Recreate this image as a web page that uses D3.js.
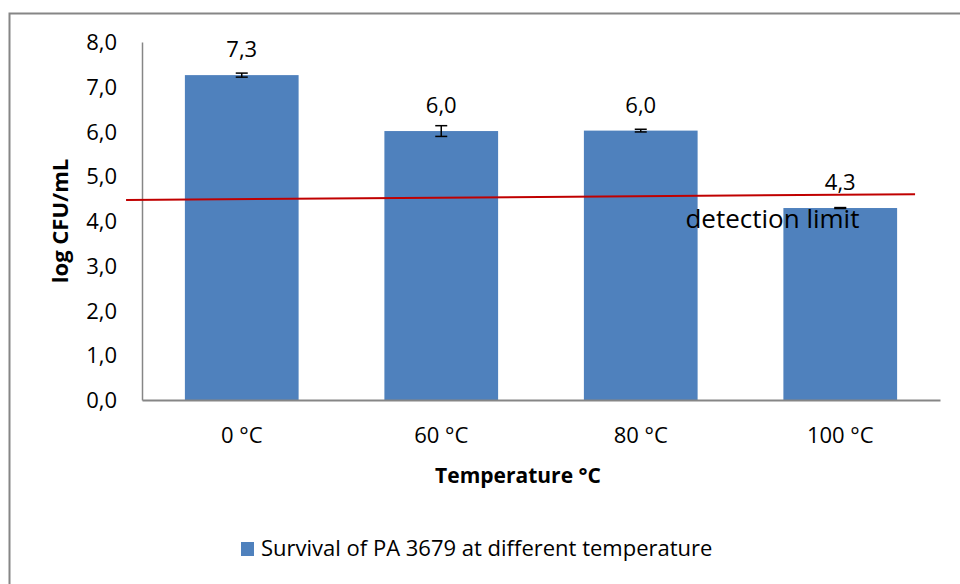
<!DOCTYPE html>
<html>
<head>
<meta charset="utf-8">
<script src="https://cdn.jsdelivr.net/npm/d3@7"></script>
<style>
  body { margin: 0; background: #fff; }
  text { font-family: "Open Sans", sans-serif; fill: #000; }
</style>
</head>
<body>
<div id="canvas"></div>
<script>
// data
let categories = ["0 °C", "60 °C", "80 °C", "100 °C"]
let values = [7.26, 6.01, 6.02, 4.29]
let errors = [0.045, 0.12, 0.03, 0.01]
let labels = ["7,3", "6,0", "6,0", "4,3"]
let yTicks = [0, 1, 2, 3, 4, 5, 6, 7, 8]
// hand-drawn detection line, x in category units, y in log CFU/mL
let detectionLine = [[-0.08, 4.47], [3.875, 4.60]]
let seriesName = "Survival of PA 3679 at different temperature"

let width = 960
let height = 584
let margin = { left: 142, right: 20, top: 42, bottom: 184 }
let barColor = "#4f81bd"
let gray = "#868686"
let fs = 22

let svg = d3.select("#canvas").append("svg")
    .attr("width", width)
    .attr("height", height)

// outer chart frame (runs off the right and bottom)
svg.append("path")
    .attr("d", "M9.5," + (height + 5) + "V13.5H" + (width + 5))
    .attr("fill", "none")
    .attr("stroke", gray)
    .attr("stroke-width", 2)

let x = d3.scaleBand()
    .domain(categories)
    .range([margin.left, width - margin.right])
    .paddingInner(0.43)
    .paddingOuter(0.215)

let y = d3.scaleLinear()
    .domain([0, 8])
    .range([height - margin.bottom, margin.top])

// linear helper for the detection line in category units
let xc = d3.scaleLinear()
    .domain([0, categories.length])
    .range([margin.left, width - margin.right])

// bars
svg.append("g")
    .selectAll("rect")
    .data(values)
    .enter().append("rect")
    .attr("x", (d, i) => x(categories[i]))
    .attr("y", d => y(d))
    .attr("width", x.bandwidth())
    .attr("height", d => y(0) - y(d))
    .attr("fill", barColor)

// axes
let yAxis = svg.append("g")
    .attr("transform", "translate(" + margin.left + ",0)")
    .call(d3.axisLeft(y).tickValues(yTicks).tickSize(0).tickPadding(25)
        .tickFormat(d => d3.format(".1f")(d).replace(".", ",")))
yAxis.select(".domain").attr("stroke", gray).attr("stroke-width", 1.5)
yAxis.selectAll("text").attr("font-size", fs).attr("dy", "0.35em")

let xAxis = svg.append("g")
    .attr("transform", "translate(0," + y(0) + ")")
    .call(d3.axisBottom(x).tickSize(0).tickPadding(27))
xAxis.select(".domain").attr("stroke", gray).attr("stroke-width", 2)
xAxis.selectAll("text").attr("font-size", fs)

// error bars
let err = svg.append("g")
    .selectAll("g")
    .data(values)
    .enter().append("g")
    .attr("stroke", "#000")
    .attr("stroke-width", 1.5)
err.append("line")
    .attr("x1", (d, i) => x(categories[i]) + x.bandwidth() / 2)
    .attr("x2", (d, i) => x(categories[i]) + x.bandwidth() / 2)
    .attr("y1", (d, i) => y(d + errors[i]))
    .attr("y2", (d, i) => y(d - errors[i]))
err.selectAll("line.cap")
    .data((d, i) => [[i, d + errors[i]], [i, d - errors[i]]])
    .enter().append("line")
    .attr("class", "cap")
    .attr("x1", d => x(categories[d[0]]) + x.bandwidth() / 2 - 6)
    .attr("x2", d => x(categories[d[0]]) + x.bandwidth() / 2 + 6)
    .attr("y1", d => y(d[1]))
    .attr("y2", d => y(d[1]))

// value labels
svg.append("g")
    .selectAll("text")
    .data(values)
    .enter().append("text")
    .attr("x", (d, i) => x(categories[i]) + x.bandwidth() / 2)
    .attr("y", (d, i) => y(d) - 18)
    .attr("text-anchor", "middle")
    .attr("font-size", fs)
    .text((d, i) => labels[i])

// detection limit line
svg.append("line")
    .attr("x1", xc(detectionLine[0][0]))
    .attr("y1", y(detectionLine[0][1]))
    .attr("x2", xc(detectionLine[1][0]))
    .attr("y2", y(detectionLine[1][1]))
    .attr("stroke", "#c00000")
    .attr("stroke-width", 2)

svg.append("text")
    .attr("x", xc(3.16))
    .attr("y", y(3.84))
    .attr("text-anchor", "middle")
    .attr("font-size", 26)
    .text("detection limit")

// axis titles
svg.append("text")
    .attr("transform", "translate(68," + y(4.0) + ") rotate(-90)")
    .attr("text-anchor", "middle")
    .attr("font-size", fs)
    .attr("font-weight", "bold")
    .text("log CFU/mL")

svg.append("text")
    .attr("x", 518)
    .attr("y", 483)
    .attr("text-anchor", "middle")
    .attr("font-size", 21)
    .attr("font-weight", "bold")
    .text("Temperature °C")

// legend
let legend = svg.append("g").attr("transform", "translate(241,542)")
legend.append("rect")
    .attr("width", 13)
    .attr("height", 14)
    .attr("fill", barColor)
legend.append("text")
    .attr("x", 20)
    .attr("y", 14)
    .attr("font-size", fs)
    .text(seriesName)
</script>
</body>
</html>
